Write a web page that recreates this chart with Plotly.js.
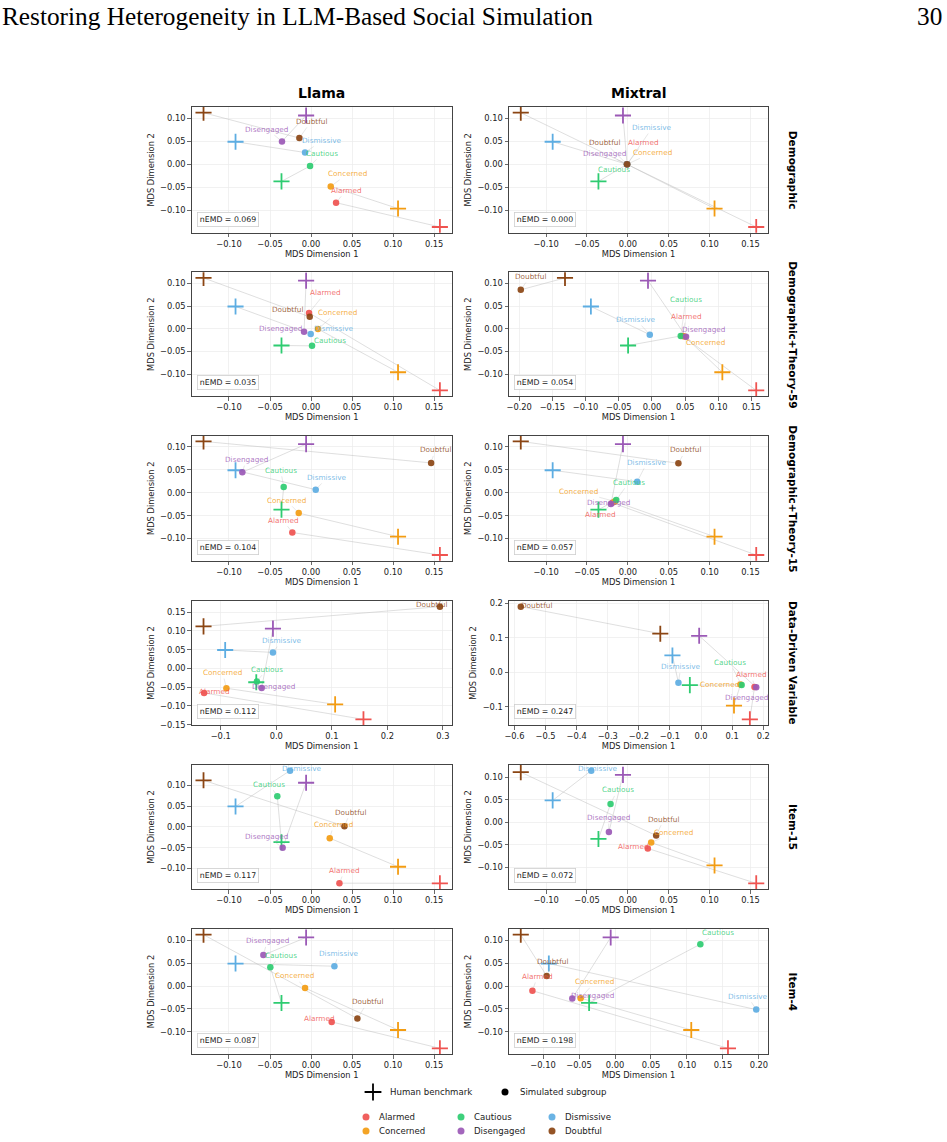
<!DOCTYPE html>
<html><head><meta charset="utf-8">
<script src="https://cdn.plot.ly/plotly-3.0.1.min.js"></script>
<style>html,body{margin:0;padding:0;background:#fff;}#chart{width:947px;height:1142px;}</style>
</head><body><div id="chart"></div>
<script>
// ---------------- DATA ----------------
const categories = ['Alarmed','Concerned','Cautious','Disengaged','Dismissive','Doubtful'];
const models = ['Llama','Mixtral'];
const conditions = ['Demographic','Demographic+Theory-59','Demographic+Theory-15','Data-Driven Variable','Item-15','Item-4'];
const humanX = [0.157, 0.106, -0.036, -0.006, -0.092, -0.131];
const humanY = [-0.136, -0.096, -0.037, 0.106, 0.049, 0.112];
const nemdLlama   = [0.069, 0.035, 0.104, 0.112, 0.117, 0.087];
const nemdMixtral = [0.000, 0.054, 0.057, 0.247, 0.072, 0.198];

const llama_demo_x   = [0.0305, 0.024, -0.0012, -0.0354, -0.0073, -0.0142];
const llama_demo_y   = [-0.0833, -0.048, -0.0037, 0.0497, 0.0256, 0.057];
const mixtral_demo_x = [-0.001, -0.001, -0.001, -0.001, -0.001, -0.001];
const mixtral_demo_y = [0.000, 0.000, 0.000, 0.000, 0.000, 0.000];
const llama_t59_x    = [-0.0024, 0.0085, 0.0012, -0.0085, -0.0004, -0.0016];
const llama_t59_y    = [0.0349, -0.0007, -0.0378, -0.0065, -0.0116, 0.0262];
const mixtral_t59_x  = [0.046, 0.049, 0.0433, 0.0513, -0.0033, -0.1976];
const mixtral_t59_y  = [-0.016, -0.017, -0.016, -0.0175, -0.0131, 0.0858];
const llama_t15_x    = [-0.0228, -0.015, -0.0333, -0.0837, 0.0057, 0.1463];
const llama_t15_y    = [-0.0869, -0.0445, 0.0124, 0.0445, 0.0066, 0.065];
const mixtral_t15_x  = [-0.019, -0.016, -0.0142, -0.0207, 0.0114, 0.0618];
const mixtral_t15_y  = [-0.022, -0.019, -0.016, -0.0248, 0.0241, 0.0642];
const llama_dd_x     = [-0.13, -0.0898, -0.035, -0.0263, -0.006, 0.2946];
const llama_dd_y     = [-0.0655, -0.0531, -0.035, -0.0522, 0.0425, 0.1646];
const mixtral_dd_x   = [0.172, 0.127, 0.1305, 0.1775, -0.0727, -0.5797];
const mixtral_dd_y   = [-0.042, -0.035, -0.0365, -0.0433, -0.0298, 0.1904];
const llama_i15_x    = [0.0346, 0.0228, -0.0411, -0.0346, -0.0256, 0.0407];
const llama_i15_y    = [-0.1355, -0.0272, 0.0736, -0.0504, 0.1352, 0.0016];
const mixtral_i15_x  = [0.0244, 0.0285, -0.0212, -0.0232, -0.0448, 0.0346];
const mixtral_i15_y  = [-0.0581, -0.0449, 0.0412, -0.0213, 0.1154, -0.0294];
const llama_i4_x     = [0.0252, -0.0073, -0.0496, -0.0581, 0.0285, 0.0565];
const llama_i4_y     = [-0.0784, -0.0044, 0.041, 0.0674, 0.0432, -0.0711];
const mixtral_i4_x   = [-0.1148, -0.0478, 0.1186, -0.0594, 0.1963, -0.095];
const mixtral_i4_y   = [-0.0103, -0.0265, 0.0912, -0.0272, -0.0515, 0.022];

// ---------------- LABEL OFFSETS (pixels, layout only) ----------------
const off_llama_demo   = [[10,-12.3],[17,-12.7],[12.3,-12.7],[-15,-12.3],[17.3,-12],[11.7,-16.7]];
const off_mixtral_demo = [[16.3,-21.7],[25.7,-12],[-13,5],[-22.7,-10.7],[25.3,-36.7],[-22.7,-22.3]];
const off_llama_t59    = [[16.3,-20.3],[19,-16.7],[17.7,-5.7],[-23.7,-3],[23,-5.7],[-22,-7.3]];
const off_mixtral_t59  = [[3.5,-19.3],[21,5.9],[5,-36],[17.7,-7.3],[-13.7,-15],[9.3,-13.3]];
const off_llama_t15    = [[-9.3,-12.3],[-12.3,-12.7],[-3,-16.7],[4,-12.7],[11.7,-12.3],[4,-13]];
const off_mixtral_t15  = [[-11.8,11.7],[-36.6,-9.7],[12.7,-17.7],[-2.7,-1.7],[10,-19.3],[7.3,-13.3]];
const off_llama_dd     = [[10.7,-1.3],[-3.7,-15.7],[10,-12.3],[12.3,-1],[8.7,-11.7],[-8,-1.7]];
const off_mixtral_dd   = [[-3,-12.2],[-21.2,0.2],[-12,-22.7],[-9.7,10.3],[2.3,-15.7],[15.3,-0.7]];
const off_llama_i15    = [[5,-12.7],[4,-13.7],[-8,-12],[-15.7,-11.7],[11.7,-2],[6,-14]];
const off_mixtral_i15  = [[-14,-2.3],[22.7,-10],[7,-14],[-0.3,-14.3],[7,-2.3],[7.7,-16.3]];
const off_llama_i4     = [[-12,-3],[-11,-12.3],[10.7,-12],[4,-14.3],[4.7,-13],[10.3,-16.7]];
const off_mixtral_i4   = [[5,-14.3],[14.3,-16.3],[17.3,-12],[20,-3],[-8.7,-13.3],[6,-14]];

// ---------------- STYLE ----------------
const catColors = ['#ef5350','#f39c12','#2ecc71','#9b59b6','#5dade2','#8b4513'];
const FONT = 'DejaVu Sans';
const W = 947, H = 1142;
const colPx = [[191.7,451.7],[509,768]];
const rowPx = [[107,232.7],[272.3,396],[435.7,560.7],[601,725],[765,889],[929,1054]];

function rgba(hex,a){const v=parseInt(hex.slice(1),16);return `rgba(${(v>>16)&255},${(v>>8)&255},${v&255},${a})`;}
function mplRange(vals){const mn=Math.min(...vals),mx=Math.max(...vals),p=(mx-mn)*0.05;return [mn-p,mx+p];}
function pickStep(r,maxT){for(const s of [0.05,0.1,0.2,0.5]){const n=Math.floor(r[1]/s+1e-9)-Math.ceil(r[0]/s-1e-9)+1;if(n<=maxT)return s;}return 1;}

const panelData = [
  [llama_demo_x, llama_demo_y, off_llama_demo],
  [mixtral_demo_x, mixtral_demo_y, off_mixtral_demo],
  [llama_t59_x, llama_t59_y, off_llama_t59],
  [mixtral_t59_x, mixtral_t59_y, off_mixtral_t59],
  [llama_t15_x, llama_t15_y, off_llama_t15],
  [mixtral_t15_x, mixtral_t15_y, off_mixtral_t15],
  [llama_dd_x, llama_dd_y, off_llama_dd],
  [mixtral_dd_x, mixtral_dd_y, off_mixtral_dd],
  [llama_i15_x, llama_i15_y, off_llama_i15],
  [mixtral_i15_x, mixtral_i15_y, off_mixtral_i15],
  [llama_i4_x, llama_i4_y, off_llama_i4],
  [mixtral_i4_x, mixtral_i4_y, off_mixtral_i4]
];

const traces = [], annotations = [];
const layout = {
  width: W, height: H, margin:{l:0,r:0,t:0,b:0},
  paper_bgcolor:'#fff', plot_bgcolor:'#fff', showlegend:false,
  font:{family:FONT, size:8, color:'#222'}
};
const TICK = 8.3, AXT = 8.3;

panelData.forEach((P,i)=>{
  const row = Math.floor(i/2), col = i%2, n = i+1;
  const xa = n===1?'x':'x'+n, ya = n===1?'y':'y'+n;
  const xk = n===1?'xaxis':'xaxis'+n, yk = n===1?'yaxis':'yaxis'+n;
  const sx = P[0], sy = P[1], off = P[2];
  const lx=[], ly=[];
  categories.forEach((c,k)=>{lx.push(humanX[k],sx[k],null);ly.push(humanY[k],sy[k],null);});
  traces.push({type:'scatter',mode:'lines',x:lx,y:ly,xaxis:xa,yaxis:ya,
    line:{color:'rgba(185,185,185,0.5)',width:0.9},hoverinfo:'skip'});
  traces.push({type:'scatter',mode:'markers',x:humanX,y:humanY,xaxis:xa,yaxis:ya,text:categories,
    marker:{symbol:'cross-thin-open',size:11.5,color:catColors,line:{color:catColors,width:1.8}}});
  traces.push({type:'scatter',mode:'markers',x:sx,y:sy,xaxis:xa,yaxis:ya,text:categories,
    marker:{symbol:'circle',size:6.5,color:catColors,opacity:0.92,line:{width:0}}});
  const xr = mplRange([...humanX,...sx]), yr = mplRange([...humanY,...sy]);
  const xs = pickStep(xr,9), ys = pickStep(yr,7);
  const common = {showline:true, mirror:true, linecolor:'#444', linewidth:1, showgrid:true,
    gridcolor:'#ebebeb', gridwidth:0.7, zeroline:false, ticks:'outside', ticklen:3.5, tickwidth:0.8,
    tickcolor:'#444', tickfont:{size:TICK,color:'#222',family:FONT}, tick0:0, fixedrange:true};
  layout[xk] = Object.assign({}, common, {domain:[colPx[col][0]/W, colPx[col][1]/W], range:xr, anchor:ya,
    dtick:xs, tickformat: xs<0.1?'.2f':'.1f',
    title:{text:'MDS Dimension 1', font:{size:AXT,color:'#222',family:FONT}, standoff:2}});
  layout[yk] = Object.assign({}, common, {domain:[1-rowPx[row][1]/H, 1-rowPx[row][0]/H], range:yr, anchor:xa,
    dtick:ys, tickformat: ys<0.1?'.2f':'.1f',
    title:{text:'MDS Dimension 2', font:{size:AXT,color:'#222',family:FONT}, standoff:4}});
  categories.forEach((c,k)=>{
    annotations.push({x:sx[k], y:sy[k], xref:xa, yref:ya, text:c, showarrow:true, arrowhead:0,
      arrowwidth:0.6, arrowcolor:'rgba(170,170,170,0.45)', ax:off[k][0], ay:off[k][1], standoff:3,
      font:{size:7.3, color:rgba(catColors[k],0.82), family:FONT}});
  });
  const emd = (col===0 ? nemdLlama : nemdMixtral)[row];
  annotations.push({xref:xa+' domain', yref:ya+' domain', x:0.02, y:0.045, xanchor:'left', yanchor:'bottom',
    text:'nEMD = '+emd.toFixed(3), showarrow:false, bgcolor:'rgba(255,255,255,0.9)', bordercolor:'#cfcfcf',
    borderwidth:0.8, borderpad:2, font:{size:7.8,color:'#222',family:FONT}});
});

// column titles
models.forEach((m,c)=>{
  annotations.push({xref:'paper', yref:'paper', x:(colPx[c][0]+colPx[c][1])/2/W, y:1-92.7/H,
    xanchor:'center', yanchor:'middle', text:m, showarrow:false,
    font:{size:14, family:FONT, weight:'bold', color:'#000'}});
});
// row titles
conditions.forEach((t,r)=>{
  annotations.push({xref:'paper', yref:'paper', x:793/W, y:1-(rowPx[r][0]+rowPx[r][1])/2/H,
    xanchor:'center', yanchor:'middle', text:t, textangle:90, showarrow:false,
    font:{size:10.5, family:FONT, weight:'bold', color:'#000'}});
});
// page header
annotations.push({xref:'paper', yref:'paper', x:0, y:1-16/H, xanchor:'left', yanchor:'middle', showarrow:false,
  text:'Restoring Heterogeneity in LLM-Based Social Simulation', font:{size:25.3, family:'Liberation Serif', color:'#000'}});
annotations.push({xref:'paper', yref:'paper', x:944/W, y:1-16/H, xanchor:'right', yanchor:'middle', showarrow:false,
  text:'30', font:{size:25.3, family:'Liberation Serif', color:'#000'}});

// legend drawn on a hidden helper axis (page pixel coordinates)
layout.xaxis13 = {domain:[0,1], range:[0,W], visible:false, fixedrange:true, anchor:'y13'};
layout.yaxis13 = {domain:[0,72/H], range:[H,H-72], visible:false, fixedrange:true, anchor:'x13'};
const legRow0 = 1092, legRows = [1117,1131], legCols = [366,461,552];
traces.push({type:'scatter',mode:'markers',x:[373],y:[legRow0],xaxis:'x13',yaxis:'y13',
  marker:{symbol:'cross-thin-open',size:12,color:'#000',line:{color:'#000',width:1.8}}});
traces.push({type:'scatter',mode:'markers',x:[505],y:[legRow0],xaxis:'x13',yaxis:'y13',
  marker:{symbol:'circle',size:7,color:'#000'}});
annotations.push({xref:'x13',yref:'y13',x:388,y:legRow0,xanchor:'left',yanchor:'middle',showarrow:false,
  text:'Human benchmark',font:{size:8.6,family:FONT,color:'#222'}});
annotations.push({xref:'x13',yref:'y13',x:518,y:legRow0,xanchor:'left',yanchor:'middle',showarrow:false,
  text:'Simulated subgroup',font:{size:8.6,family:FONT,color:'#222'}});
const lgx=[], lgy=[];
categories.forEach((c,k)=>{
  const cx = legCols[Math.floor(k/2)], cy = legRows[k%2];
  lgx.push(cx); lgy.push(cy);
  annotations.push({xref:'x13',yref:'y13',x:cx+11,y:cy,xanchor:'left',yanchor:'middle',showarrow:false,
    text:c,font:{size:8.6,family:FONT,color:'#222'}});
});
traces.push({type:'scatter',mode:'markers',x:lgx,y:lgy,xaxis:'x13',yaxis:'y13',
  marker:{symbol:'circle',size:7,color:catColors,opacity:0.92}});

layout.annotations = annotations;
Plotly.newPlot('chart', traces, layout, {staticPlot:true, displayModeBar:false});
</script></body></html>
